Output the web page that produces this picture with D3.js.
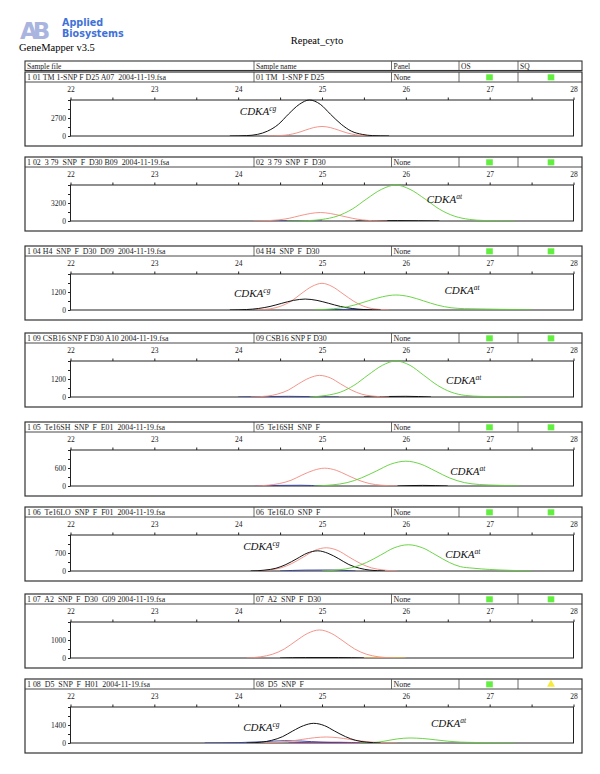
<!DOCTYPE html>
<html><head><meta charset="utf-8">
<script src="https://cdn.jsdelivr.net/npm/d3@7"></script>
<style>body{margin:0;background:#fff} svg{display:block} text{white-space:pre}</style>
</head><body><svg id="c" width="600" height="774"></svg>
<script>
// ---------- data ----------
const columns = ["Sample file", "Sample name", "Panel", "OS", "SQ"];
const sampleFiles = [
  "1 01 TM 1-SNP F D25 A07  2004-11-19.fsa",
  "1 02  3 79  SNP  F  D30 B09  2004-11-19.fsa",
  "1 04 H4  SNP  F  D30  D09  2004-11-19.fsa",
  "1 09 CSB16 SNP F D30 A10 2004-11-19.fsa",
  "1 05  Te16SH  SNP  F  E01  2004-11-19.fsa",
  "1 06  Te16LO  SNP  F  F01  2004-11-19.fsa",
  "1 07  A2  SNP  F  D30  G09 2004-11-19.fsa",
  "1 08  D5  SNP  F  H01  2004-11-19.fsa"
];
const sampleNames = [
  "01 TM  1-SNP F D25", "02  3 79  SNP  F  D30", "04 H4  SNP  F  D30", "09 CSB16 SNP F D30",
  "05  Te16SH  SNP  F", "06  Te16LO  SNP  F", "07  A2  SNP  F  D30", "08  D5  SNP  F"
];
const panelNames = ["None", "None", "None", "None", "None", "None", "None", "None"];
const osFlags = ["pass", "pass", "pass", "pass", "pass", "pass", "pass", "pass"];
const sqFlags = ["pass", "pass", "pass", "pass", "pass", "pass", "pass", "check"];
const xTicks = [22, 23, 24, 25, 26, 27, 28];
const yLabelValues = [2700, 3200, 1200, 1200, 600, 700, 1000, 1400];

// traces: [size, height] points
const p1Red = [[24.35,0],[24.5,63],[24.6,190],[24.7,460],[24.8,870],[24.9,1260],[25.0,1430],[25.1,1260],[25.2,870],[25.3,460],[25.4,190],[25.5,63],[25.65,0]];
const p1Black = [[23.9,0],[24.1,60],[24.23,240],[24.35,730],[24.48,1750],[24.6,3280],[24.73,4750],[24.85,5400],[24.98,4750],[25.1,3280],[25.23,1750],[25.35,730],[25.48,240],[25.6,60],[25.8,0]];

const p2Red = [[24.18,0],[24.36,66],[24.48,200],[24.61,490],[24.73,920],[24.86,1330],[24.98,1510],[25.1,1330],[25.23,920],[25.36,490],[25.48,200],[25.6,66],[25.78,0]];
const p2Green = [[24.58,0],[24.83,70],[25.0,280],[25.18,860],[25.36,2110],[25.53,3900],[25.71,5630],[25.88,6400],[26.05,5630],[26.23,3900],[26.4,2110],[26.58,860],[26.76,280],[26.93,90],[27.1,30],[27.3,0]];
const p2Black = [[25.4,0],[25.65,40],[25.9,70],[26.15,40],[26.4,0]];
const p2Blue = [[24.4,0],[24.6,50],[24.8,30],[25.0,0]];

const p3Red = [[24.2,0],[24.38,78],[24.5,240],[24.63,580],[24.75,1080],[24.88,1570],[25.0,1780],[25.12,1570],[25.25,1080],[25.38,580],[25.5,240],[25.62,78],[25.8,0]];
const p3Black = [[23.9,0],[24.1,32],[24.24,99],[24.38,237],[24.52,445],[24.66,640],[24.8,730],[24.94,640],[25.08,445],[25.22,237],[25.36,99],[25.5,32],[25.7,0]];
const p3Green = [[24.9,0],[25.05,44],[25.22,135],[25.38,320],[25.55,610],[25.72,880],[25.88,1000],[26.05,880],[26.21,610],[26.38,320],[26.54,150],[26.7,90],[26.9,70],[27.1,50],[27.3,30],[27.5,0]];
const p3Blue = [[25.0,0],[25.3,40],[25.6,0]];

const p4Red = [[24.15,0],[24.35,63],[24.47,195],[24.6,465],[24.72,880],[24.85,1270],[24.97,1440],[25.1,1270],[25.22,880],[25.35,465],[25.47,195],[25.6,63],[25.8,0]];
const p4Green = [[24.85,0],[25.05,105],[25.22,325],[25.38,770],[25.55,1465],[25.72,2110],[25.88,2400],[26.05,2110],[26.21,1465],[26.38,770],[26.54,325],[26.71,105],[26.9,40],[27.2,15],[27.4,0]];
const p4Blue = [[24.0,0],[24.3,25],[24.6,45],[24.9,25],[25.2,0]];
const p4Black = [[25.5,0],[25.8,35],[26.0,45],[26.3,0]];

const p5Red = [[24.2,0],[24.35,26],[24.49,80],[24.63,190],[24.76,362],[24.9,523],[25.03,594],[25.17,523],[25.3,362],[25.44,190],[25.57,80],[25.71,26],[25.9,0]];
const p5Green = [[24.9,0],[25.12,36],[25.3,112],[25.47,270],[25.65,502],[25.82,728],[26.0,827],[26.18,728],[26.35,502],[26.52,270],[26.7,112],[26.88,50],[27.1,25],[27.35,0]];
const p5Blue = [[24.2,0],[24.5,20],[24.75,25],[25.0,0]];
const p5Black = [[25.9,0],[26.2,20],[26.5,0]];

const p6Red = [[24.2,0],[24.37,40],[24.51,122],[24.64,290],[24.78,548],[24.91,795],[25.05,903],[25.19,795],[25.32,548],[25.46,290],[25.59,122],[25.73,40],[25.9,0]];
const p6Black = [[24.15,0],[24.32,35],[24.45,106],[24.57,252],[24.7,477],[24.82,690],[24.95,785],[25.07,690],[25.2,477],[25.32,252],[25.45,106],[25.57,35],[25.75,0]];
const p6Green = [[25.0,0],[25.2,45],[25.37,138],[25.53,330],[25.7,620],[25.86,900],[26.03,1020],[26.2,900],[26.36,620],[26.52,330],[26.65,170],[26.8,110],[27.0,60],[27.25,25],[27.5,0]];
const p6Blue = [[24.5,0],[24.8,35],[25.1,40],[25.4,0]];

const p7Red = [[24.1,0],[24.27,68],[24.41,210],[24.55,500],[24.69,950],[24.83,1370],[24.97,1557],[25.11,1370],[25.25,950],[25.39,500],[25.53,210],[25.67,68],[25.85,0]];
const p7Black = [[24.5,0],[24.8,25],[25.2,25],[25.5,0]];
const p7Orange = [[25.5,0],[25.75,25],[26.0,0]];

const p8Blue = [[23.6,0],[24.0,30],[24.3,100],[24.55,180],[24.75,150],[25.0,60],[25.3,0]];
const p8Purple = [[24.6,0],[24.9,60],[25.2,60],[25.5,0]];
const p8Red = [[24.2,0],[24.35,20],[24.49,63],[24.63,150],[24.77,285],[24.91,410],[25.05,467],[25.19,410],[25.33,285],[25.47,150],[25.61,63],[25.75,20],[25.9,0]];
const p8Black = [[24.1,0],[24.28,67],[24.4,207],[24.53,495],[24.65,930],[24.78,1350],[24.9,1530],[25.03,1350],[25.15,930],[25.28,495],[25.4,207],[25.53,67],[25.7,0]];
const p8Green = [[25.45,0],[25.6,20],[25.75,150],[25.9,320],[26.05,390],[26.2,350],[26.35,250],[26.5,140],[26.65,70],[26.85,40],[27.1,15],[27.3,0]];

// annotations: panel, superscript, size, height
const annoPanel = [0, 1, 2, 2, 3, 4, 5, 5, 7, 7];
const annoSup   = ["cg", "at", "cg", "at", "at", "at", "cg", "at", "cg", "at"];
const annoX     = [24.02, 26.25, 23.95, 26.46, 26.48, 26.53, 24.06, 26.47, 24.06, 26.3];
const annoY     = [3150, 3200, 870, 1070, 870, 370, 817, 505, 930, 1240];

// ---------- build ----------
const colors = {red: "#f2897e", black: "#111111", green: "#5ccf34", blue: "#2c3c9c", purple: "#8c2a86", orange: "#f0b040"};
const panelTraces = [
  [["red", p1Red], ["black", p1Black]],
  [["blue", p2Blue], ["black", p2Black], ["red", p2Red], ["green", p2Green]],
  [["blue", p3Blue], ["red", p3Red], ["black", p3Black], ["green", p3Green]],
  [["blue", p4Blue], ["black", p4Black], ["red", p4Red], ["green", p4Green]],
  [["blue", p5Blue], ["black", p5Black], ["red", p5Red], ["green", p5Green]],
  [["blue", p6Blue], ["red", p6Red], ["black", p6Black], ["green", p6Green]],
  [["black", p7Black], ["orange", p7Orange], ["red", p7Red]],
  [["blue", p8Blue], ["purple", p8Purple], ["red", p8Red], ["green", p8Green], ["black", p8Black]]
];

const svg = d3.select("#c");
const serif = "'Liberation Serif', 'Times New Roman', serif";
const L = 25, R = 582;
const colX = [25, 254, 391.5, 459, 518, 582];
const panelTops = [72, 157, 246, 333, 422, 507, 594, 679];
const x = d3.scaleLinear().domain([22, 28]).range([70.5, 573.5]);

// logo
const logo = svg.append("g");
logo.append("text").attr("x", 20).attr("y", 39).attr("font-family", "'DejaVu Sans', sans-serif")
  .attr("font-weight", "bold").attr("font-size", 23).attr("letter-spacing", -5).attr("fill", "#aab5df").text("AB");
logo.append("text").attr("x", 62).attr("y", 25.5).attr("font-family", "'DejaVu Sans', sans-serif")
  .attr("font-weight", "bold").attr("font-size", 9.6).attr("fill", "#3f72d8").text("Applied");
logo.append("text").attr("x", 62).attr("y", 37).attr("font-family", "'DejaVu Sans', sans-serif")
  .attr("font-weight", "bold").attr("font-size", 9.6).attr("fill", "#3f72d8").text("Biosystems");
svg.append("text").attr("x", 19).attr("y", 51).attr("font-family", serif).attr("font-size", 10.5).text("GeneMapper v3.5");
svg.append("text").attr("x", 317).attr("y", 44).attr("text-anchor", "middle").attr("font-family", serif).attr("font-size", 10.5).text("Repeat_cyto");

// header table
svg.append("rect").attr("x", L).attr("y", 61).attr("width", R - L).attr("height", 9.5)
  .attr("fill", "none").attr("stroke", "#333").attr("stroke-width", 1.1);
colX.slice(1, -1).forEach(cx => svg.append("line").attr("x1", cx).attr("x2", cx).attr("y1", 61).attr("y2", 70.5)
  .attr("stroke", "#444").attr("stroke-width", 0.8));
columns.forEach((c, i) => svg.append("text").attr("x", colX[i] + 2).attr("y", 68.5)
  .attr("font-family", serif).attr("font-size", 7.5).attr("fill", "#222").text(c));

// panels
panelTops.forEach((T, i) => {
  const g = svg.append("g");
  g.append("rect").attr("x", L).attr("y", T).attr("width", R - L).attr("height", 74)
    .attr("fill", "none").attr("stroke", "#333").attr("stroke-width", 1.2);
  g.append("line").attr("x1", L).attr("x2", R).attr("y1", T + 10).attr("y2", T + 10).attr("stroke", "#333").attr("stroke-width", 0.9);
  colX.slice(1, -1).forEach(cx => g.append("line").attr("x1", cx).attr("x2", cx).attr("y1", T).attr("y2", T + 10)
    .attr("stroke", "#444").attr("stroke-width", 0.8));
  [sampleFiles[i], sampleNames[i], panelNames[i]].forEach((s, k) =>
    g.append("text").attr("x", colX[k] + 2).attr("y", T + 7.6).attr("font-family", serif).attr("font-size", 7.9).attr("fill", "#222").text(s));
  [[osFlags[i], 489.5], [sqFlags[i], 551]].forEach(([f, cx]) => {
    if (f === "pass") g.append("rect").attr("x", cx - 3.3).attr("y", T + 2.3).attr("width", 6.6).attr("height", 6).attr("fill", "#62ef40");
    else g.append("path").attr("d", d3.symbol(d3.symbolTriangle, 28)()).attr("transform", `translate(${cx},${T + 5.5})`).attr("fill", "#f7ea3a");
  });

  const top = T + 28, base = T + 64;
  const y = d3.scaleLinear().domain([0, yLabelValues[i] * 2]).range([base, top]);

  const xAxis = d3.axisTop(x).tickValues(d3.range(22, 28.01, 0.5)).tickSize(2.5).tickFormat(d => xTicks.includes(d) ? d : "");
  const ax = g.append("g").attr("transform", `translate(0,${top})`).call(xAxis);
  ax.select(".domain").remove();
  ax.selectAll("line").attr("stroke", "#222");
  ax.selectAll("text").attr("font-family", serif).attr("font-size", 7.5).attr("fill", "#222").attr("dy", -3);

  const yAxis = d3.axisLeft(y).tickValues(d3.range(0, yLabelValues[i] * 2 + 1, yLabelValues[i] / 2)).tickSize(2.5)
    .tickFormat(d => (d === 0 || d === yLabelValues[i]) ? d : "");
  const ay = g.append("g").attr("transform", `translate(${x(22)},0)`).call(yAxis);
  ay.select(".domain").remove();
  ay.selectAll("line").attr("stroke", "#222");
  ay.selectAll("text").attr("font-family", serif).attr("font-size", 7.5).attr("fill", "#222").attr("x", -4.5);

  g.append("rect").attr("x", x(22)).attr("y", top).attr("width", x(28) - x(22)).attr("height", base - top)
    .attr("fill", "none").attr("stroke", "#222").attr("stroke-width", 1);

  const clipId = "clip" + i;
  g.append("clipPath").attr("id", clipId).append("rect").attr("x", x(22)).attr("y", top - 1).attr("width", x(28) - x(22)).attr("height", base - top + 1);
  const line = d3.line().x(d => x(d[0])).y(d => y(d[1])).curve(d3.curveMonotoneX);
  const cg = g.append("g").attr("clip-path", `url(#${clipId})`);
  panelTraces[i].forEach(([c, data]) => {
    cg.append("path").datum(data).attr("d", line).attr("fill", "none").attr("stroke", colors[c])
      .attr("stroke-width", c === "black" ? 1 : 0.9);
  });

  annoPanel.forEach((p, k) => {
    if (p !== i) return;
    const t = g.append("text").attr("x", x(annoX[k])).attr("y", y(annoY[k])).attr("font-family", serif)
      .attr("font-style", "italic").attr("font-size", 11).attr("fill", "#111");
    t.append("tspan").text("CDKA");
    t.append("tspan").attr("dy", -4).attr("font-size", 7.5).text(annoSup[k]);
  });
});
</script></body></html>
